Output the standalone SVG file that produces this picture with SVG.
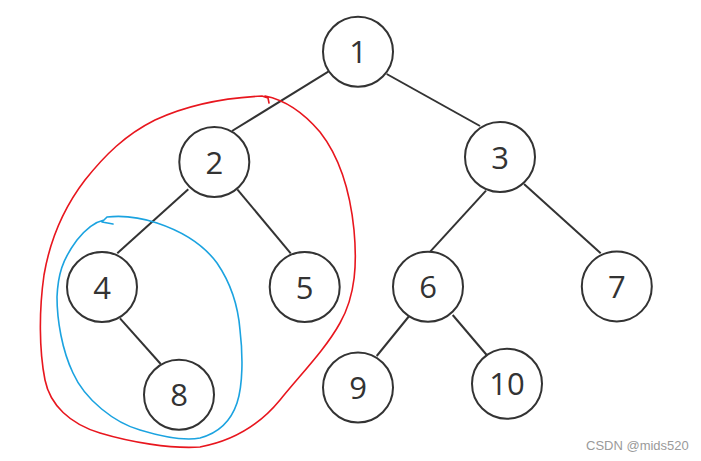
<svg xmlns="http://www.w3.org/2000/svg" width="701" height="461" viewBox="0 0 701 461">
<style>
.n circle{fill:#fff;stroke:#333;stroke-width:2}
.n text{font-family:"Open Sans","Noto Sans","DejaVu Sans",sans-serif;font-size:31px;fill:#333;text-anchor:middle}
#edges line{stroke:#333;stroke-width:2}
.hand{fill:none;stroke-width:1.6;stroke-linecap:round;stroke-linejoin:round}
</style>
<rect width="701" height="461" fill="#fff"/>
<g id="edges">
<line x1="328.3" y1="71.7" x2="232" y2="131"/>
<line x1="386.7" y1="74" x2="480" y2="126"/>
<line x1="188.3" y1="189.3" x2="117.3" y2="253.3"/>
<line x1="237.3" y1="189.3" x2="290.7" y2="253.3"/>
<line x1="486" y1="190.7" x2="429.3" y2="252.7"/>
<line x1="524" y1="184" x2="600.7" y2="253.3"/>
<line x1="120" y1="318.3" x2="160.7" y2="364"/>
<line x1="410" y1="315" x2="376.7" y2="356"/>
<line x1="452.7" y1="315" x2="486.7" y2="355"/>
</g>
<g id="n1" class="n"><circle cx="358" cy="51.7" r="35"/><text x="358" y="63.3">1</text></g>
<g id="n2" class="n"><circle cx="214.3" cy="162" r="35"/><text x="214.3" y="173.5">2</text></g>
<g id="n3" class="n"><circle cx="500" cy="157" r="35"/><text x="500" y="168.5">3</text></g>
<g id="n4" class="n"><circle cx="102" cy="287" r="35"/><text x="102" y="298.5">4</text></g>
<g id="n5" class="n"><circle cx="304.7" cy="287" r="35"/><text x="304.7" y="298.5">5</text></g>
<g id="n6" class="n"><circle cx="428" cy="286.7" r="35"/><text x="428" y="298.2">6</text></g>
<g id="n7" class="n"><circle cx="616.8" cy="286.4" r="35"/><text x="616.8" y="297.9">7</text></g>
<g id="n8" class="n"><circle cx="179" cy="394.7" r="35"/><text x="179" y="406.2">8</text></g>
<g id="n9" class="n"><circle cx="358" cy="387.5" r="35"/><text x="358" y="399">9</text></g>
<g id="n10" class="n"><circle cx="507" cy="383.8" r="35"/><text x="507" y="395.3">10</text></g>
<path class="hand" stroke="#e8161e" d="M265 96 C285 100 303 112 320 132 C338 155 350 190 354 230 C357 262 356 295 340 323 C325 350 300 375 280 400 C262 422 238 440 200 447 C170 449 130 442 100 433 C70 424 50 405 45 380 C39 350 39 310 44 275 C50 240 62 210 85 180 C105 155 125 135 155 120 C185 106 220 98 262 96 L268 98 L269 103"/>
<path class="hand" stroke="#1ba3e0" d="M113 224 L102 222 L107 217 C125 215 145 219 157 223 C175 229 200 240 217 263 C230 282 238 305 240 330 C243 355 243 385 237 403 C232 418 222 432 200 438 C185 441 160 436 140 430 C115 423 85 400 73 373 C62 350 57 320 57 297 C58 275 62 260 77 240 C85 230 95 222 104 220"/>
<text x="586" y="449.5" font-family="'Liberation Sans',Arial,sans-serif" font-size="13" fill="#9a9a9a">CSDN @mids520</text>
</svg>
